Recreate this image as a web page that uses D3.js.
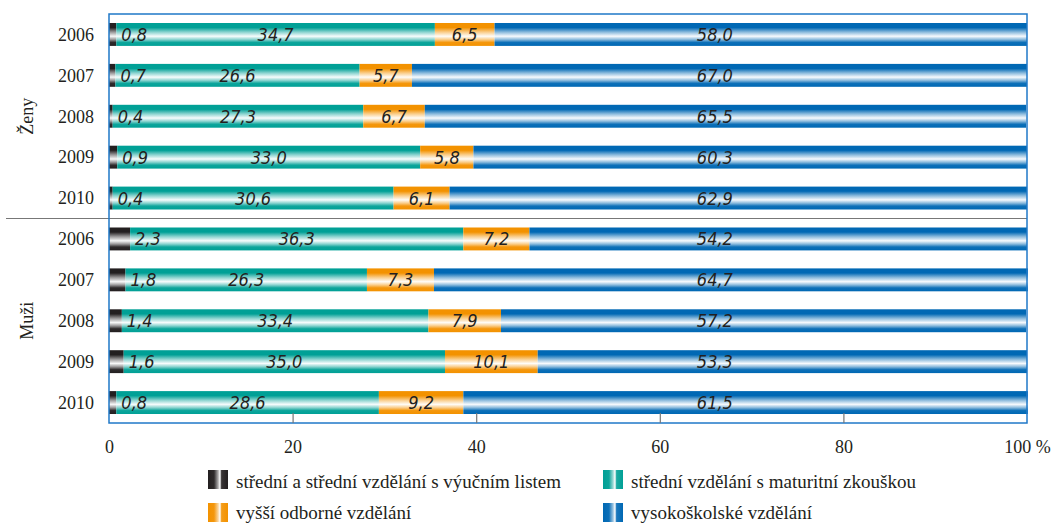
<!DOCTYPE html>
<html><head><meta charset="utf-8">
<script src="https://cdn.jsdelivr.net/npm/d3@7/dist/d3.min.js"></script>
<style>
html,body{margin:0;padding:0;background:#fff;}
svg{display:block;}
</style></head>
<body>
<svg id="chart" width="1052" height="524"></svg>
<script>
// ---- data ----
const groups = ["Ženy", "Muži"];
const years = ["2006", "2007", "2008", "2009", "2010"];
const seriesNames = [
  "střední a střední vzdělání s výučním listem",
  "střední vzdělání s maturitní zkouškou",
  "vyšší odborné vzdělání",
  "vysokoškolské vzdělání"
];
const seriesColors = ["#231f20", "#00a096", "#f39200", "#0068b4"];
// values per series, order: Ženy 2006..2010, Muži 2006..2010
const vyucni    = [0.8, 0.7, 0.4, 0.9, 0.4, 2.3, 1.8, 1.4, 1.6, 0.8];
const maturita  = [34.7, 26.6, 27.3, 33.0, 30.6, 36.3, 26.3, 33.4, 35.0, 28.6];
const vyssi     = [6.5, 5.7, 6.7, 5.8, 6.1, 7.2, 7.3, 7.9, 10.1, 9.2];
const vysoko    = [58.0, 67.0, 65.5, 60.3, 62.9, 54.2, 64.7, 57.2, 53.3, 61.5];
const xTicks = [0, 20, 40, 60, 80, 100];
const xTickLabels = ["0", "20", "40", "60", "80", "100 %"];

(function () {
// ---- layout ----
const svg = d3.select("#chart");
const mLeft = 109, mRight = 1027, mTop = 14, mBottom = 423;
const serif = "'Liberation Serif', 'DejaVu Serif', serif";
const narrow = "'Liberation Sans Narrow', 'DejaVu Sans Condensed', sans-serif";
const textColor = "#231f20";

const rows = [];
groups.forEach((g, gi) => years.forEach((yr, yi) => rows.push({group: g, year: yr, key: g + yr, i: gi * years.length + yi})));
const allSeries = [vyucni, maturita, vyssi, vysoko];

const x = d3.scaleLinear().domain([0, 100]).range([mLeft, mRight]);
const y = d3.scaleBand().domain(rows.map(r => r.key)).range([mTop, mBottom]).paddingInner(0.44).paddingOuter(0.22);

// gradients
const defs = svg.append("defs");
seriesColors.forEach((c, i) => {
  const light = d3.interpolateRgb(c, "#ffffff");
  const gv = defs.append("linearGradient").attr("id", "gv" + i).attr("x1", 0).attr("y1", 0).attr("x2", 0).attr("y2", 1);
  [[0, 0], [0.2, 0], [0.4, 0.55], [0.58, 0.97], [0.72, 0.55], [0.85, 0.05], [1, 0]].forEach(([o, t]) =>
    gv.append("stop").attr("offset", o).attr("stop-color", light(t)));
  const gh = defs.append("linearGradient").attr("id", "gh" + i).attr("x1", 0).attr("y1", 0).attr("x2", 1).attr("y2", 0);
  [[0, 0], [0.3, 0.05], [0.5, 0.6], [0.6, 1], [0.68, 0.1], [1, 0]].forEach(([o, t]) =>
    gh.append("stop").attr("offset", o).attr("stop-color", light(t)));
});

// stacked data
const stackData = rows.map(r => {
  let acc = 0;
  return allSeries.map((s, si) => {
    const v = s[r.i];
    const seg = {row: r, si, v, x0: acc, x1: acc + v};
    acc += v;
    return seg;
  });
});

const barG = svg.append("g");
stackData.forEach(segs => {
  barG.selectAll(null).data(segs).enter().append("rect")
    .attr("x", d => x(d.x0))
    .attr("y", d => y(d.row.key))
    .attr("width", d => x(d.x1) - x(d.x0))
    .attr("height", y.bandwidth())
    .attr("fill", d => `url(#gv${d.si})`);
});

// value labels
const fmt = v => v.toFixed(1).replace(".", ",");
const labelG = svg.append("g").attr("font-family", narrow).attr("font-style", "italic")
  .attr("font-size", 18).attr("fill", textColor);
stackData.forEach(segs => {
  labelG.selectAll(null).data(segs).enter().append("text")
    .attr("x", d => d.si === 0 ? x(d.x1) + 5 : d.si === 3 ? x(66) : x((d.x0 + d.x1) / 2))
    .attr("y", d => y(d.row.key) + y.bandwidth() / 2)
    .attr("dy", "0.36em")
    .attr("text-anchor", d => d.si === 0 ? "start" : "middle")
    .text(d => fmt(d.v));
});

// separator line between groups
const sepY = (y(rows[4].key) + y.bandwidth() + y(rows[5].key)) / 2;
svg.append("line").attr("x1", 6).attr("x2", mRight).attr("y1", sepY).attr("y2", sepY)
  .attr("stroke", "#777").attr("stroke-width", 1.2);

// frame
svg.append("rect").attr("x", mLeft).attr("y", mTop).attr("width", mRight - mLeft).attr("height", mBottom - mTop)
  .attr("fill", "none").attr("stroke", "#1f78c8").attr("stroke-width", 1.5);

// x axis
const xAxis = d3.axisBottom(x).tickValues(xTicks).tickSize(-10).tickPadding(17)
  .tickFormat((d, i) => xTickLabels[i]);
const gx = svg.append("g").attr("transform", `translate(0,${mBottom})`).call(xAxis);
gx.select(".domain").remove();
gx.selectAll(".tick line").attr("stroke", "#777").attr("stroke-width", 1.2)
  .attr("display", d => (d === 0 || d === 100) ? "none" : null);
gx.selectAll(".tick text").attr("font-family", serif).attr("font-size", 18).attr("fill", textColor);

// y labels (years)
svg.append("g").selectAll("text").data(rows).enter().append("text")
  .attr("x", 94).attr("y", d => y(d.key) + y.bandwidth() / 2).attr("dy", "0.35em")
  .attr("text-anchor", "end").attr("font-family", serif).attr("font-size", 18).attr("fill", textColor)
  .text(d => d.year);

// group labels
groups.forEach((g, gi) => {
  const mid = rows[gi * 5 + 2];
  const cy = y(mid.key) + y.bandwidth() / 2;
  svg.append("text").attr("transform", `translate(33,${cy}) rotate(-90)`)
    .attr("text-anchor", "middle").attr("font-family", serif).attr("font-size", 18).attr("fill", textColor)
    .text(g);
});

// legend
const legX = [208, 603], legY = [470, 503];
const legend = svg.append("g");
seriesNames.forEach((name, i) => {
  const col = i % 2, row = Math.floor(i / 2);
  const gI = legend.append("g").attr("transform", `translate(${legX[col]},${legY[row]})`);
  gI.append("rect").attr("width", 20).attr("height", 19).attr("fill", `url(#gh${i})`);
  gI.append("text").attr("x", 28).attr("y", row === 0 ? 18 : 16).attr("font-family", serif).attr("font-size", 19)
    .attr("fill", textColor).text(name);
});
})();
</script>
</body></html>
